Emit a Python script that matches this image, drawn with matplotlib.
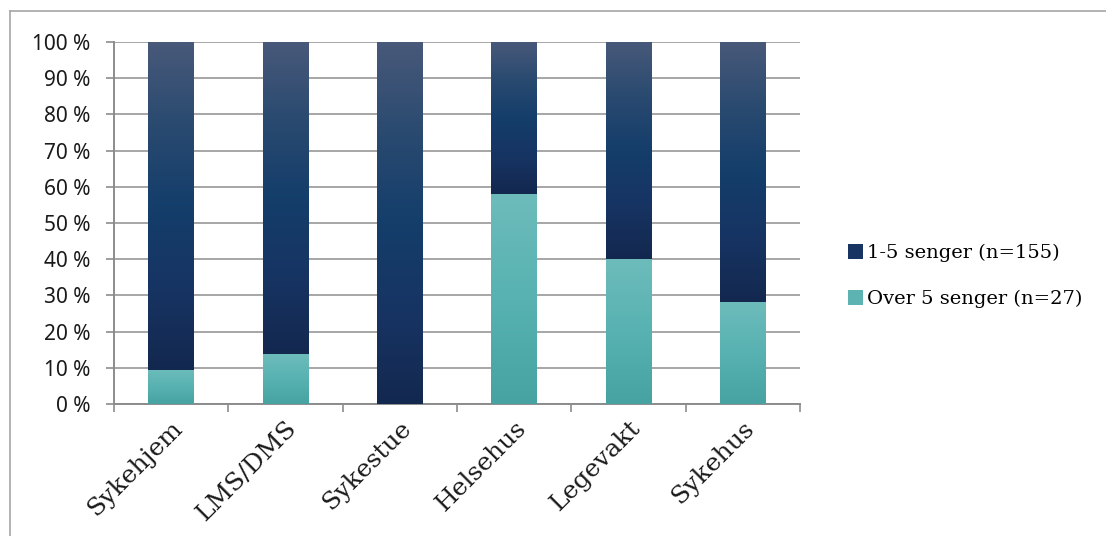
import numpy as np
import matplotlib.pyplot as plt
from matplotlib.colors import LinearSegmentedColormap
from matplotlib.patches import Rectangle
from matplotlib.lines import Line2D

# Andel per institusjonstype (%)
kategorier = ['Sykehjem', 'LMS/DMS', 'Sykestue', 'Helsehus', 'Legevakt', 'Sykehus']
over5 = [9.5, 13.8, 0.0, 58.0, 40.0, 28.2]
en_til_fem = [100 - v for v in over5]
serier = ['1-5 senger (n=155)', 'Over 5 senger (n=27)']

navy = LinearSegmentedColormap.from_list('navy', ['#13284f', '#173463', '#143e6b', '#2a4a70', '#48597a'])
teal = LinearSegmentedColormap.from_list('teal', ['#46a3a2', '#57b2b1', '#6dbcbb'])

fig = plt.figure(figsize=(11.06, 5.36), dpi=100)
ax = fig.add_axes([114 / 1106, 1 - 404 / 536, 686 / 1106, 362 / 536])

x = np.arange(len(kategorier))
bredde = 0.40
grad = np.linspace(0, 1, 256).reshape(-1, 1)


def gradient_bars(bars, cmap):
    for b in bars:
        h = b.get_height()
        if h <= 0:
            continue
        b.set_facecolor('none')
        x0, y0 = b.get_x(), b.get_y()
        im = ax.imshow(grad, cmap=cmap, origin='lower', aspect='auto',
                       extent=[x0, x0 + b.get_width(), y0, y0 + h], zorder=3)
        im.set_clip_path(b)


b1 = ax.bar(x, over5, bredde, color='none', edgecolor='none', zorder=3)
b2 = ax.bar(x, en_til_fem, bredde, bottom=over5, color='none', edgecolor='none', zorder=3)
gradient_bars(b1, teal)
gradient_bars(b2, navy)

ax.set_xlim(-0.5, len(kategorier) - 0.5)
ax.set_ylim(0, 100)
ax.set_yticks(np.arange(0, 101, 10))
ax.set_yticklabels([f'{v} %' for v in range(0, 101, 10)], fontsize=15, family='Noto Sans', color='#1a1a1a')
ax.yaxis.grid(True, color='#a6a6a6', linewidth=1.4, zorder=0)
ax.set_axisbelow(True)

ax.set_xticks(x)
ax.set_xticklabels(kategorier, rotation=45, ha='right', rotation_mode='anchor',
                   fontsize=18, family='DejaVu Serif', color='#1a1a1a')
ax.tick_params(axis='x', length=0, pad=9)
ax.set_xticks(np.arange(-0.5, len(kategorier)), minor=True)
ax.tick_params(axis='x', which='minor', length=6, width=1.2, color='#8c8c8c')
ax.tick_params(axis='y', length=6, width=1.2, color='#8c8c8c', pad=11)

for s in ['top', 'right']:
    ax.spines[s].set_visible(False)
for s in ['left', 'bottom']:
    ax.spines[s].set_color('#8c8c8c')
    ax.spines[s].set_linewidth(1.4)

handles = [Rectangle((0, 0), 1, 1, facecolor='#173463'),
           Rectangle((0, 0), 1, 1, facecolor='#5cb3b2')]
fig.legend(handles, serier, loc='center left', bbox_to_anchor=(840 / 1106, 1 - 276 / 536),
           frameon=False, prop={'family': 'DejaVu Serif', 'size': 14},
           handlelength=0.8, handleheight=0.8, handletextpad=0.2, labelspacing=1.45,
           borderaxespad=0)

# ytre ramme
fig.add_artist(Line2D([10 / 1106, 10 / 1106], [0, 1 - 11 / 536], transform=fig.transFigure,
                      color='#a6a6a6', linewidth=1.2))
fig.add_artist(Line2D([10 / 1106, 1], [1 - 11 / 536, 1 - 11 / 536], transform=fig.transFigure,
                      color='#a6a6a6', linewidth=1.2))

fig.savefig('out.png', dpi=100)
